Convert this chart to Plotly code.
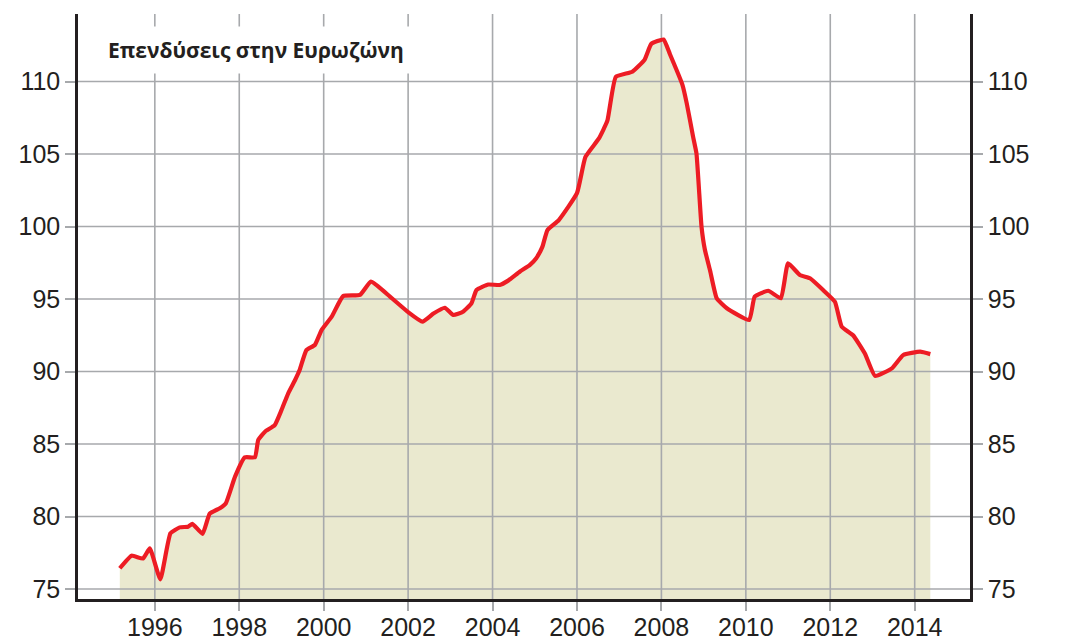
import plotly.graph_objects as go

years = [1995.17, 1995.45, 1995.72, 1995.88, 1996.13, 1996.37, 1996.59, 1996.79, 1996.89, 1997.13,
         1997.30, 1997.54, 1997.68, 1997.90, 1998.13, 1998.37, 1998.45, 1998.61, 1998.84, 1999.00,
         1999.16, 1999.32, 1999.43, 1999.59, 1999.79, 1999.95, 2000.19, 2000.46, 2000.86, 2001.12,
         2001.57, 2002.00, 2002.34, 2002.60, 2002.87, 2003.07, 2003.30, 2003.50, 2003.62, 2003.90,
         2004.17, 2004.37, 2004.65, 2004.88, 2005.03, 2005.18, 2005.30, 2005.57, 2006.00, 2006.20,
         2006.52, 2006.72, 2006.92, 2007.31, 2007.60, 2007.76, 2008.05, 2008.20, 2008.50, 2008.60,
         2008.75, 2008.83, 2008.95, 2009.03, 2009.15, 2009.31, 2009.55, 2010.08, 2010.21, 2010.53,
         2010.83, 2011.00, 2011.28, 2011.52, 2011.83, 2012.11, 2012.27, 2012.54, 2012.82, 2013.06,
         2013.46, 2013.73, 2014.13, 2014.37]
values = [76.43, 77.30, 77.10, 77.80, 75.67, 78.84, 79.25, 79.30, 79.50, 78.80,
          80.20, 80.57, 80.90, 82.75, 84.08, 84.08, 85.28, 85.85, 86.30, 87.34,
          88.50, 89.40, 90.10, 91.48, 91.83, 92.86, 93.78, 95.20, 95.28, 96.20,
          95.17, 94.10, 93.44, 94.00, 94.40, 93.90, 94.12, 94.70, 95.62, 96.00,
          95.97, 96.27, 96.90, 97.34, 97.80, 98.60, 99.76, 100.45, 102.30, 104.80,
          106.08, 107.30, 110.33, 110.68, 111.50, 112.60, 112.90, 111.90, 109.76, 108.50,
          106.20, 105.05, 99.99, 98.40, 97.00, 95.05, 94.36, 93.55, 95.16, 95.57,
          95.05, 97.46, 96.66, 96.43, 95.62, 94.81, 93.10, 92.50, 91.24, 89.70,
          90.22, 91.14, 91.37, 91.20]

x_ticks = [1996, 1998, 2000, 2002, 2004, 2006, 2008, 2010, 2012, 2014]
y_ticks = [75, 80, 85, 90, 95, 100, 105, 110]
title_text = "Επενδύσεις στην Ευρωζώνη"

X_RANGE = [1994.18, 2015.31]
Y_RANGE = [74.31, 114.66]

GRID = "#a7a9ac"
AXIS = "#231f20"
FILL = "#eae9cf"
RED = "#ed1c24"
TICKFONT = dict(family="Liberation Sans, Arial, sans-serif", size=25, color=AXIS)

fig = go.Figure()

# area fill
fig.add_trace(go.Scatter(x=years, y=values, mode="lines",
                         line=dict(width=0, color=FILL, shape="spline", smoothing=0.4),
                         fill="tozeroy", fillcolor=FILL, hoverinfo="skip", showlegend=False))

# grid lines drawn above the fill (from tick lists)
gx, gy = [], []
for t in x_ticks:
    gx += [t, t, None]
    gy += [Y_RANGE[0], Y_RANGE[1], None]
for v in y_ticks:
    gx += [X_RANGE[0], X_RANGE[1], None]
    gy += [v, v, None]
fig.add_trace(go.Scatter(x=gx, y=gy, mode="lines", line=dict(color=GRID, width=1.6),
                         hoverinfo="skip", showlegend=False))

# red line
fig.add_trace(go.Scatter(x=years, y=values, mode="lines",
                         line=dict(color=RED, width=4.2, shape="spline", smoothing=0.4),
                         showlegend=False))

# invisible trace for right axis
fig.add_trace(go.Scatter(x=[years[0]], y=[values[0]], yaxis="y2", mode="markers",
                         marker=dict(opacity=0), hoverinfo="skip", showlegend=False))

common = dict(showgrid=False, zeroline=False, showline=True, linecolor=AXIS, linewidth=2.5,
              ticks="outside", tickwidth=1.6, tickcolor=GRID, tickfont=TICKFONT,
              layer="above traces", automargin=False)

# the page body adds an 8px offset, so the figure is sized to fit the window
fig.update_layout(
    width=1059, height=633,
    margin=dict(l=70, r=97, t=6, b=42),
    paper_bgcolor="white", plot_bgcolor="white",
    xaxis=dict(range=X_RANGE, tickvals=x_ticks, ticktext=[str(t) for t in x_ticks],
               ticklen=9, ticklabelstandoff=-5, **common),
    yaxis=dict(range=Y_RANGE, tickvals=y_ticks, ticktext=[str(v) for v in y_ticks],
               ticklen=10, **common),
    yaxis2=dict(range=Y_RANGE, tickvals=y_ticks, ticktext=[str(v) for v in y_ticks],
                overlaying="y", side="right", anchor="x", ticklen=10, **common),
    annotations=[dict(text="<b>" + title_text + "</b>", xref="paper", yref="paper",
                      x=0.199, y=0.9385, xanchor="center", yanchor="middle", showarrow=False,
                      font=dict(family="Open Sans, Noto Sans, sans-serif", size=21, color=AXIS),
                      bgcolor="white", borderpad=9)],
)

fig.write_html("out.html")
